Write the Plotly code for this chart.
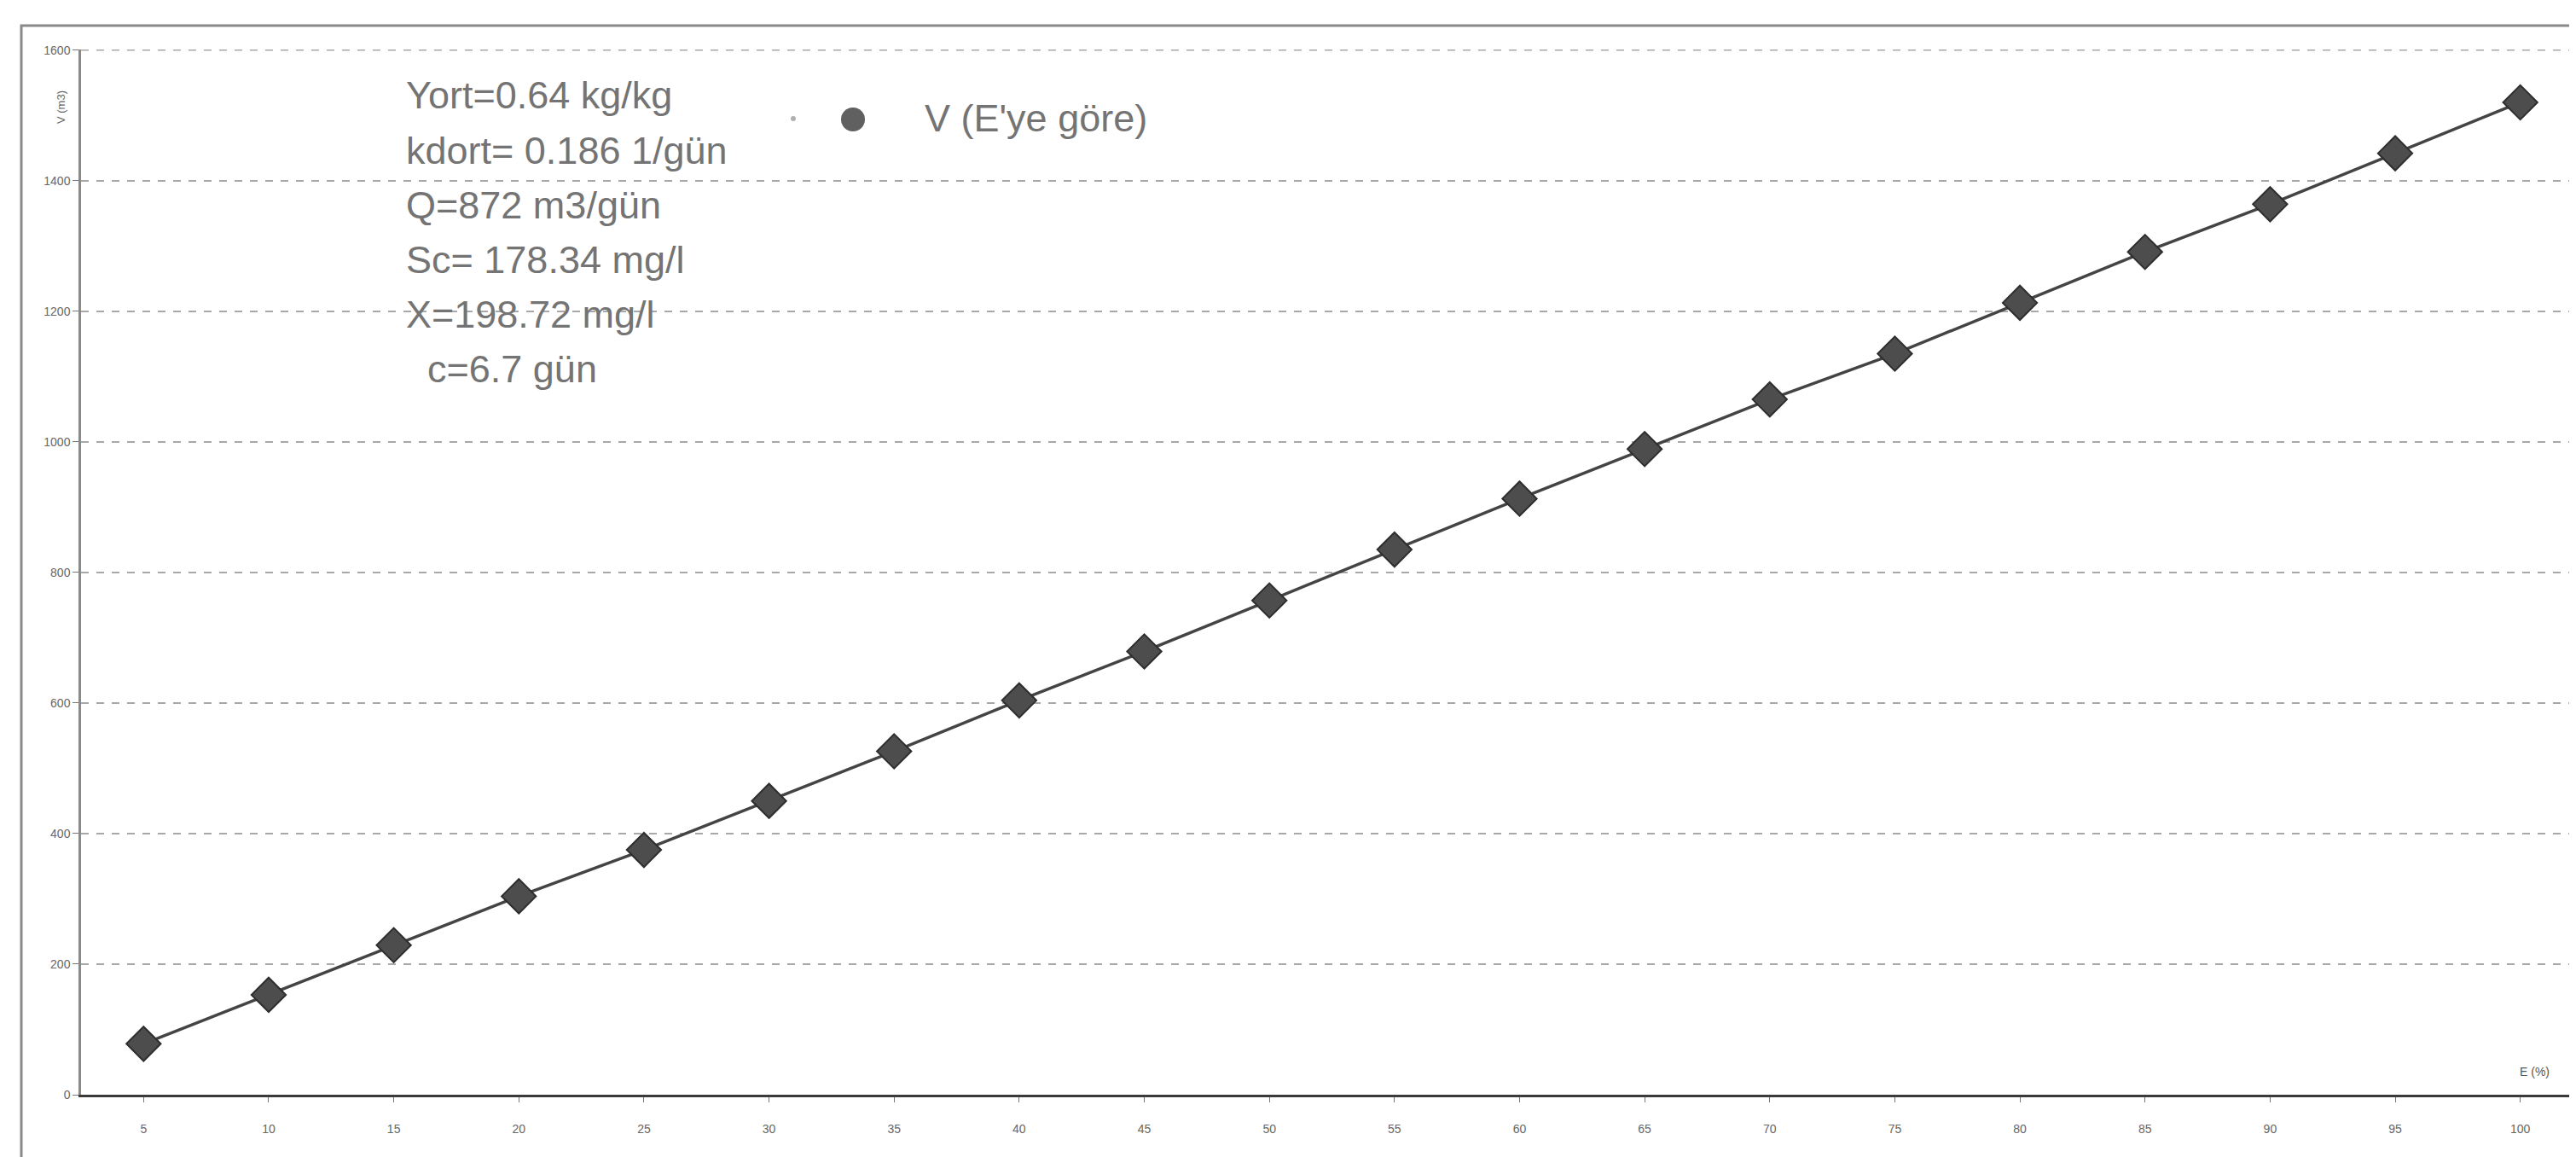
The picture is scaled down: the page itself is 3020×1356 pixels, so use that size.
import plotly.graph_objects as go

# Data
E_percent = [5, 10, 15, 20, 25, 30, 35, 40, 45, 50, 55, 60, 65, 70, 75, 80, 85, 90, 95, 100]
V_m3 = [78, 153, 229, 304, 375, 450, 526, 604, 679, 757, 835, 913, 989, 1065, 1135, 1213, 1291, 1364, 1442, 1520]
y_ticks = [0, 200, 400, 600, 800, 1000, 1200, 1400, 1600]
info_lines = ["Yort=0.64 kg/kg", "kdort= 0.186 1/gün", "Q=872 m3/gün",
              "Sc= 178.34 mg/l", "X=198.72 mg/l", "  c=6.7 gün"]
series_name = "V (E'ye göre)"

FONT = "Liberation Sans, Arial, sans-serif"
TXT = "#747474"

W, H = 3020, 1356
L, R, T, B = 87, 0, 50, 81
pw, ph = W - L - R, H - T - B


def px_x(x):
    return (x - L) / pw


def px_y(y):
    return (H - B - y) / ph


fig = go.Figure()
fig.add_trace(go.Scatter(
    x=E_percent, y=V_m3, mode="lines+markers", showlegend=False,
    line=dict(color="#444444", width=3.5),
    marker=dict(symbol="diamond", size=31, color="#4d4d4d",
                line=dict(color="#2e2e2e", width=2)),
))

annotations = []
y0 = 104
for i, line in enumerate(info_lines):
    annotations.append(dict(
        x=px_x(466), y=px_y(y0 + i * 64), xref="paper", yref="paper",
        text=line.replace(" ", "&nbsp;") if line.startswith(" ") else line,
        showarrow=False, xanchor="left", yanchor="middle",
        font=dict(family=FONT, size=45, color=TXT)))
# legend text
annotations.append(dict(
    x=px_x(1074), y=px_y(130), xref="paper", yref="paper", text=series_name,
    showarrow=False, xanchor="left", yanchor="middle",
    font=dict(family=FONT, size=45, color=TXT)))
annotations.append(dict(
    x=px_x(2963), y=px_y(1248), xref="paper", yref="paper", text="E (%)",
    showarrow=False, xanchor="center", yanchor="middle",
    font=dict(family=FONT, size=14, color="#555555")))
annotations.append(dict(
    x=px_x(63), y=px_y(118), xref="paper", yref="paper", text="V (m3)",
    showarrow=False, textangle=-90, xanchor="center", yanchor="middle",
    font=dict(family=FONT, size=13, color="#666666")))


def circle(cx, cy, r, color):
    return dict(type="circle", xref="paper", yref="paper",
                x0=px_x(cx - r), x1=px_x(cx + r), y0=px_y(cy + r), y1=px_y(cy - r),
                fillcolor=color, line=dict(width=0))


shapes = [
    dict(type="rect", xref="paper", yref="paper",
         x0=px_x(17), x1=px_x(3017), y0=px_y(1352), y1=px_y(22),
         line=dict(color="#8a8a8a", width=3)),
    dict(type="line", xref="paper", yref="y", x0=0, x1=1,
         y0=y_ticks[-1], y1=y_ticks[-1],
         line=dict(color="#a8a8a8", width=1.5, dash="dash")),
    circle(992, 132, 14, "#606060"),
    circle(922, 131, 3, "#b0b0b0"),
]

fig.update_layout(
    width=W, height=H,
    margin=dict(l=L, r=R, t=T, b=B),
    paper_bgcolor="white", plot_bgcolor="white",
    font=dict(family=FONT, color=TXT),
    showlegend=False,
    annotations=annotations,
    shapes=shapes,
)
fig.update_xaxes(
    range=[2.5, 102.5], tickmode="array", tickvals=E_percent,
    ticktext=[str(v) for v in E_percent],
    tickfont=dict(family=FONT, size=14, color="#666666"),
    showgrid=False, zeroline=False,
    showline=True, linecolor="#3a3a3a", linewidth=3,
    ticks="outside", ticklen=6, tickcolor="#777777", ticklabelstandoff=19,
)
fig.update_yaxes(
    range=[0, 1601], tickmode="array", tickvals=y_ticks,
    ticktext=[str(v) for v in y_ticks],
    tickfont=dict(family=FONT, size=14, color="#666666"),
    showgrid=True, gridcolor="#a8a8a8", gridwidth=1.5, griddash="dash",
    zeroline=False, showline=True, linecolor="#8a8a8a", linewidth=2.5,
    ticks="outside", ticklen=7, tickcolor="#777777",
)

fig.write_html("out.html")
